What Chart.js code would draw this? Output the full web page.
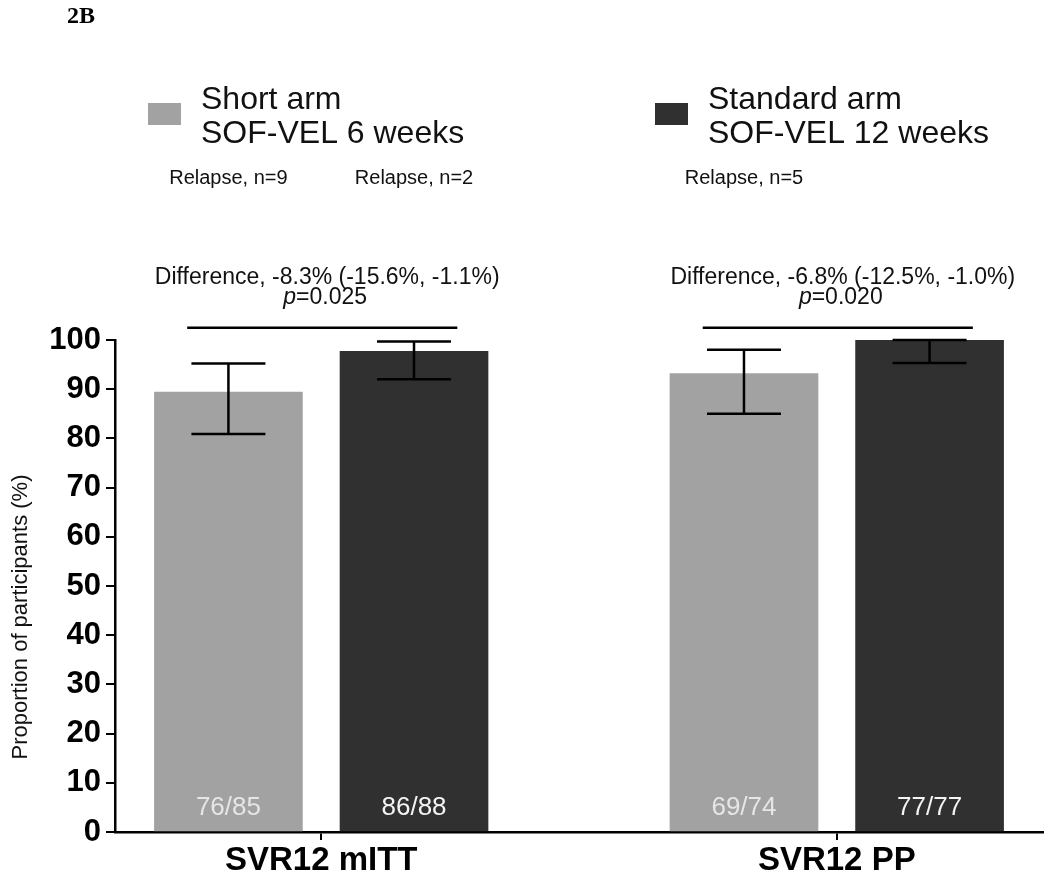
<!DOCTYPE html>
<html><head><meta charset="utf-8">
<script src="https://cdn.jsdelivr.net/npm/chart.js@4.4.1/dist/chart.umd.min.js"></script>
<style>html,body{margin:0;padding:0;background:#fff}#wrap{width:1050px;height:880px;position:relative}</style>
</head><body><div id="wrap"><canvas id="c"></canvas></div>
<script>
// ---- data ----
const categories = ['SVR12 mITT', 'SVR12 PP'];
const seriesNames = [['Short arm', 'SOF-VEL 6 weeks'], ['Standard arm', 'SOF-VEL 12 weeks']];
const shortValues = [89.4, 93.2];
const standardValues = [97.7, 100];
const shortCILow = [80.9, 85.0];
const shortCIHigh = [95.2, 98.0];
const standardCILow = [92.0, 95.3];
const standardCIHigh = [99.7, 100];
const shortFractions = ['76/85', '69/74'];
const standardFractions = ['86/88', '77/77'];
const shortRelapse = ['Relapse, n=9', 'Relapse, n=5'];
const standardRelapse = ['Relapse, n=2', null];
const differences = ['Difference, -8.3% (-15.6%, -1.1%)', 'Difference, -6.8% (-12.5%, -1.0%)'];
const pValues = ['0.025', '0.020'];
const yTicks = [0, 10, 20, 30, 40, 50, 60, 70, 80, 90, 100];
const panelLabel = '2B';
const yTitle = 'Proportion of participants (%)';

// ---- layout (positions on the linear x scale) ----
const categoryPos = [2, 7];
const armOffset = 0.9;
const FONT = '"Liberation Sans", Arial, Helvetica, sans-serif';
const shortColor = '#a2a2a2';
const standardColor = '#303030';

const shortData = shortValues.map((v, i) => ({x: categoryPos[i] - armOffset, y: v}));
const standardData = standardValues.map((v, i) => ({x: categoryPos[i] + armOffset, y: v}));

const annot = {
  id: 'annot',
  afterDatasetsDraw(chart) {
    const ctx = chart.ctx;
    const xs = chart.scales.x, ys = chart.scales.y;
    ctx.save();
    // error bars
    const drawErr = (xv, lo, hi) => {
      const px = xs.getPixelForValue(xv);
      const pl = ys.getPixelForValue(lo), ph = ys.getPixelForValue(hi);
      ctx.strokeStyle = '#000'; ctx.lineWidth = 2.5;
      ctx.beginPath();
      ctx.moveTo(px, pl); ctx.lineTo(px, ph);
      ctx.moveTo(px - 37, pl); ctx.lineTo(px + 37, pl);
      ctx.moveTo(px - 37, ph); ctx.lineTo(px + 37, ph);
      ctx.stroke();
    };
    categoryPos.forEach((c, i) => {
      drawErr(c - armOffset, shortCILow[i], shortCIHigh[i]);
      drawErr(c + armOffset, standardCILow[i], standardCIHigh[i]);
    });
    // fractions inside bars
    ctx.font = '26px ' + FONT; ctx.textAlign = 'center'; ctx.textBaseline = 'middle';
    const yFrac = ys.getPixelForValue(5);
    categoryPos.forEach((c, i) => {
      ctx.fillStyle = '#e6e6e6';
      ctx.fillText(shortFractions[i], xs.getPixelForValue(c - armOffset), yFrac);
      ctx.fillStyle = '#f4f4f4';
      ctx.fillText(standardFractions[i], xs.getPixelForValue(c + armOffset), yFrac);
    });
    // significance lines
    const ySig = ys.getPixelForValue(102.5);
    ctx.strokeStyle = '#000'; ctx.lineWidth = 2.5;
    categoryPos.forEach(c => {
      ctx.beginPath();
      ctx.moveTo(xs.getPixelForValue(c - 1.3), ySig);
      ctx.lineTo(xs.getPixelForValue(c + 1.32), ySig);
      ctx.stroke();
    });
    // difference + p text
    ctx.fillStyle = '#111';
    categoryPos.forEach((c, i) => {
      const cx = xs.getPixelForValue(c) + 6;
      ctx.font = '23px ' + FONT; ctx.textAlign = 'center';
      ctx.fillText(differences[i], cx, 278);
      ctx.font = 'italic 23px ' + FONT;
      const w1 = ctx.measureText('p').width;
      ctx.font = '23px ' + FONT;
      const w2 = ctx.measureText('=' + pValues[i]).width;
      const x0 = cx - 2 - (w1 + w2) / 2;
      ctx.textAlign = 'left';
      ctx.font = 'italic 23px ' + FONT;
      ctx.fillText('p', x0, 298);
      ctx.font = '23px ' + FONT;
      ctx.fillText('=' + pValues[i], x0 + w1, 298);
    });
    // relapse labels
    ctx.font = '20px ' + FONT; ctx.textAlign = 'center';
    categoryPos.forEach((c, i) => {
      if (shortRelapse[i]) ctx.fillText(shortRelapse[i], xs.getPixelForValue(c - armOffset), 178);
      if (standardRelapse[i]) ctx.fillText(standardRelapse[i], xs.getPixelForValue(c + armOffset), 178);
    });
    // legend
    const legendX = [148, 655];
    const colors = [shortColor, standardColor];
    seriesNames.forEach((lines, k) => {
      ctx.fillStyle = colors[k];
      ctx.fillRect(legendX[k], 103, 33, 22);
      ctx.fillStyle = '#111';
      ctx.font = '32px ' + FONT; ctx.textAlign = 'left'; ctx.textBaseline = 'alphabetic';
      ctx.fillText(lines[0], legendX[k] + 53, 109);
      ctx.fillText(lines[1], legendX[k] + 53, 143);
    });
    // panel label
    ctx.font = 'bold 24px "Liberation Serif", "Times New Roman", serif';
    ctx.textAlign = 'left'; ctx.textBaseline = 'middle'; ctx.fillStyle = '#000';
    ctx.fillText(panelLabel, 67, 17);
    // y title
    ctx.translate(21, 617);
    ctx.rotate(-Math.PI / 2);
    ctx.font = '22px ' + FONT; ctx.textAlign = 'center'; ctx.textBaseline = 'middle';
    ctx.fillStyle = '#111';
    ctx.fillText(yTitle, 0, 0);
    ctx.restore();
  }
};

new Chart(document.getElementById('c'), {
  type: 'bar',
  data: {
    datasets: [
      {label: seriesNames[0].join(' '), data: shortData, backgroundColor: shortColor, grouped: false, barThickness: 148},
      {label: seriesNames[1].join(' '), data: standardData, backgroundColor: standardColor, grouped: false, barThickness: 148}
    ]
  },
  options: {
    responsive: true,
    maintainAspectRatio: false,
    animation: false,
    layout: {padding: {top: 340, right: 7, left: 0, bottom: 0}},
    plugins: {legend: {display: false}, tooltip: {enabled: false}},
    scales: {
      x: {
        type: 'linear', min: 0, max: 9, offset: false,
        afterBuildTicks: s => { s.ticks = categoryPos.map(v => ({value: v})); },
        afterFit: s => { s.height = 48; },
        ticks: {
          autoSkip: false, maxRotation: 0, padding: 1, color: '#000',
          font: {family: FONT, size: 33, weight: 'bold'},
          callback: v => categories[categoryPos.indexOf(v)]
        },
        grid: {offset: false, drawOnChartArea: false, drawTicks: true, tickLength: 8, color: '#000', lineWidth: 2},
        border: {display: true, color: '#000', width: 2.5}
      },
      y: {
        min: 0, max: 100,
        afterBuildTicks: s => { s.ticks = yTicks.map(v => ({value: v})); },
        afterFit: s => { s.width = 115; },
        ticks: {
          padding: 5, color: '#000',
          font: {family: FONT, size: 31, weight: 'bold'}
        },
        grid: {drawOnChartArea: false, drawTicks: true, tickLength: 9, color: '#000', lineWidth: 2},
        border: {display: true, color: '#000', width: 2.5}
      }
    }
  },
  plugins: [annot]
});
</script>
</body></html>
